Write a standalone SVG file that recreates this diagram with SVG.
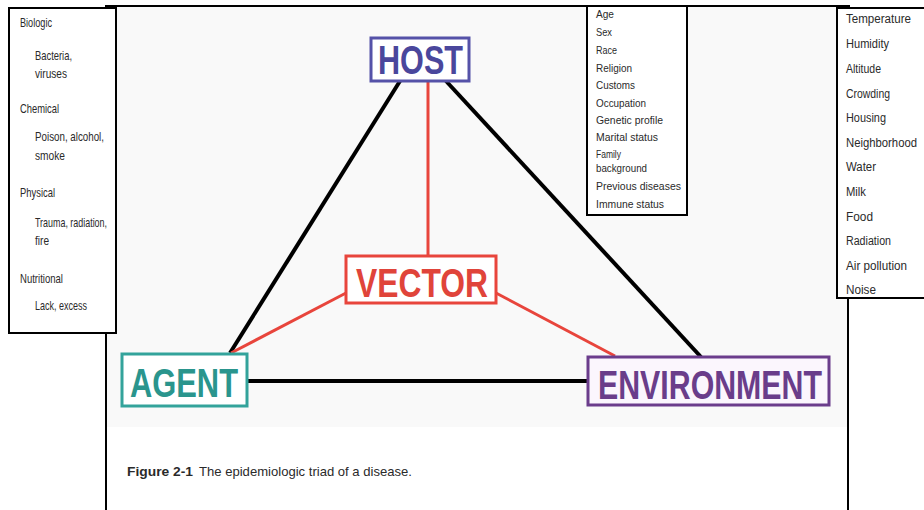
<svg xmlns="http://www.w3.org/2000/svg" width="924" height="510" viewBox="0 0 924 510">
<style>
.frame{fill:none;stroke:#000;stroke-width:2}
.box{fill:#fff;stroke:#000;stroke-width:2}
.t{font-family:"Liberation Sans",Arial,sans-serif;fill:#2a2a2a}
.s13{font-size:13px}
.s12{font-size:12.5px}
.s10{font-size:10.5px}
.lbl{font-family:"Liberation Sans",Arial,sans-serif;font-weight:bold;font-size:40px}
.blk{stroke:#000;stroke-width:4;fill:none}
.red{stroke:#e8453c;stroke-width:3;fill:none}
</style>
<rect x="0" y="0" width="924" height="510" fill="#fff"/>
<rect x="107" y="7" width="741" height="420" fill="#f9f9f9"/>
<path class="frame" d="M106 510 V6 H850 M848 6 V510"/>

<g id="connectors">
<line class="blk" x1="400" y1="81" x2="230" y2="353"/>
<line class="blk" x1="446" y1="81" x2="701" y2="357"/>
<line class="blk" x1="247" y1="381" x2="588" y2="381"/>
<line class="red" x1="428" y1="81" x2="428" y2="256"/>
<line class="red" x1="346" y1="293" x2="231" y2="353"/>
<line class="red" x1="496" y1="293" x2="615" y2="356"/>
</g>

<g id="host">
<rect x="371" y="38" width="98" height="43" fill="#fff" stroke="#5552a8" stroke-width="3"/>
<text class="lbl" x="378" y="74" textLength="85" lengthAdjust="spacingAndGlyphs" fill="#4a479c">HOST</text>
</g>
<g id="vector">
<rect x="346" y="256" width="150" height="47" fill="#fff" stroke="#e8453c" stroke-width="3"/>
<text class="lbl" x="356" y="297" textLength="132" lengthAdjust="spacingAndGlyphs" fill="#e0443a">VECTOR</text>
</g>
<g id="agent">
<rect x="122" y="354" width="125" height="52" fill="#fff" stroke="#33a39b" stroke-width="3"/>
<text class="lbl" x="130" y="397" textLength="108" lengthAdjust="spacingAndGlyphs" fill="#2a958d">AGENT</text>
</g>
<g id="environment">
<rect x="588" y="357" width="241" height="48" fill="#fbf6fd" stroke="#6b3d8c" stroke-width="3"/>
<text class="lbl" x="598" y="399" textLength="224" lengthAdjust="spacingAndGlyphs" fill="#6a3d8a">ENVIRONMENT</text>
</g>

<g id="caption">
<text class="t" x="127" y="476" font-size="13.5"><tspan font-weight="bold" textLength="66" lengthAdjust="spacingAndGlyphs">Figure 2-1</tspan></text>
<text class="t" x="199" y="476" font-size="13.5" textLength="213" lengthAdjust="spacingAndGlyphs">The epidemiologic triad of a disease.</text>
</g>

<g id="agent-factors">
<rect class="box" x="9" y="8" width="107" height="325"/>
<text class="t s13" x="20" y="27" textLength="32" lengthAdjust="spacingAndGlyphs">Biologic</text>
<text class="t s13" x="35" y="60" textLength="37" lengthAdjust="spacingAndGlyphs">Bacteria,</text>
<text class="t s13" x="35" y="78" textLength="32" lengthAdjust="spacingAndGlyphs">viruses</text>
<text class="t s13" x="20" y="113" textLength="39" lengthAdjust="spacingAndGlyphs">Chemical</text>
<text class="t s13" x="35" y="141" textLength="69" lengthAdjust="spacingAndGlyphs">Poison, alcohol,</text>
<text class="t s13" x="35" y="160" textLength="30" lengthAdjust="spacingAndGlyphs">smoke</text>
<text class="t s13" x="20" y="197" textLength="35" lengthAdjust="spacingAndGlyphs">Physical</text>
<text class="t s13" x="35" y="227" textLength="72" lengthAdjust="spacingAndGlyphs">Trauma, radiation,</text>
<text class="t s13" x="35" y="245" textLength="14" lengthAdjust="spacingAndGlyphs">fire</text>
<text class="t s13" x="20" y="283" textLength="43" lengthAdjust="spacingAndGlyphs">Nutritional</text>
<text class="t s13" x="35" y="310" textLength="52" lengthAdjust="spacingAndGlyphs">Lack, excess</text>
</g>

<g id="host-factors">
<rect class="box" x="587" y="6" width="100" height="209"/>
<text class="t s10" x="596" y="18" textLength="18" lengthAdjust="spacingAndGlyphs">Age</text>
<text class="t s10" x="596" y="36" textLength="16" lengthAdjust="spacingAndGlyphs">Sex</text>
<text class="t s10" x="596" y="54" textLength="21" lengthAdjust="spacingAndGlyphs">Race</text>
<text class="t s10" x="596" y="72" textLength="36" lengthAdjust="spacingAndGlyphs">Religion</text>
<text class="t s10" x="596" y="89" textLength="39" lengthAdjust="spacingAndGlyphs">Customs</text>
<text class="t s10" x="596" y="107" textLength="50" lengthAdjust="spacingAndGlyphs">Occupation</text>
<text class="t s10" x="596" y="124" textLength="67" lengthAdjust="spacingAndGlyphs">Genetic profile</text>
<text class="t s10" x="596" y="141" textLength="62" lengthAdjust="spacingAndGlyphs">Marital status</text>
<text class="t s10" x="596" y="158" textLength="25" lengthAdjust="spacingAndGlyphs">Family</text>
<text class="t s10" x="596" y="172" textLength="51" lengthAdjust="spacingAndGlyphs">background</text>
<text class="t s10" x="596" y="190" textLength="85" lengthAdjust="spacingAndGlyphs">Previous diseases</text>
<text class="t s10" x="596" y="208" textLength="68" lengthAdjust="spacingAndGlyphs">Immune status</text>
</g>

<g id="environment-factors">
<rect class="box" x="837" y="8" width="90" height="290"/>
<text class="t s12" x="846" y="23" textLength="65" lengthAdjust="spacingAndGlyphs">Temperature</text>
<text class="t s12" x="846" y="48" textLength="43" lengthAdjust="spacingAndGlyphs">Humidity</text>
<text class="t s12" x="846" y="73" textLength="35" lengthAdjust="spacingAndGlyphs">Altitude</text>
<text class="t s12" x="846" y="98" textLength="44" lengthAdjust="spacingAndGlyphs">Crowding</text>
<text class="t s12" x="846" y="122" textLength="40" lengthAdjust="spacingAndGlyphs">Housing</text>
<text class="t s12" x="846" y="147" textLength="71" lengthAdjust="spacingAndGlyphs">Neighborhood</text>
<text class="t s12" x="846" y="171" textLength="30" lengthAdjust="spacingAndGlyphs">Water</text>
<text class="t s12" x="846" y="196" textLength="20" lengthAdjust="spacingAndGlyphs">Milk</text>
<text class="t s12" x="846" y="221" textLength="27" lengthAdjust="spacingAndGlyphs">Food</text>
<text class="t s12" x="846" y="245" textLength="45" lengthAdjust="spacingAndGlyphs">Radiation</text>
<text class="t s12" x="846" y="270" textLength="61" lengthAdjust="spacingAndGlyphs">Air pollution</text>
<text class="t s12" x="846" y="294" textLength="30" lengthAdjust="spacingAndGlyphs">Noise</text>
</g>
</svg>
